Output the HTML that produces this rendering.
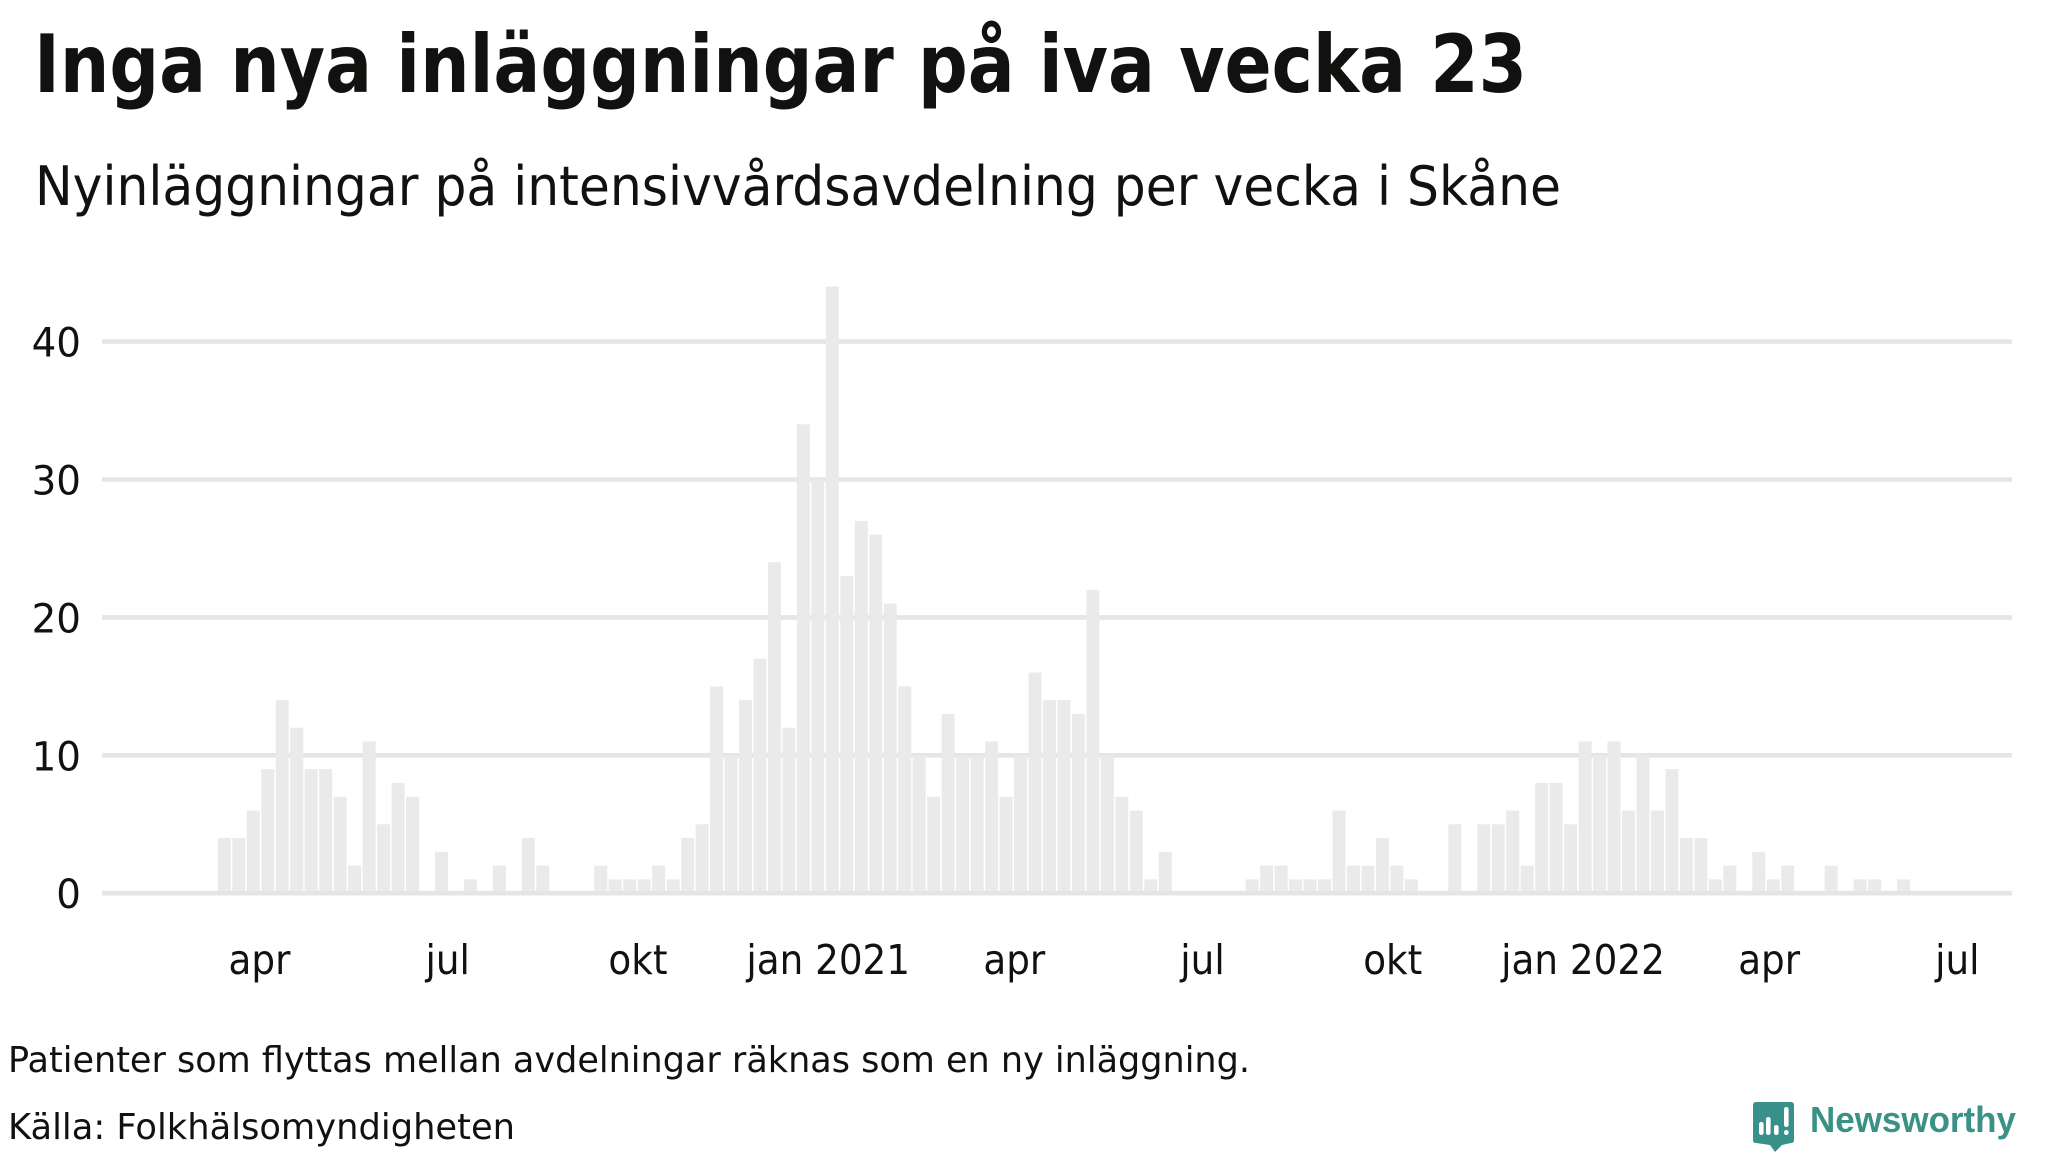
<!DOCTYPE html>
<html lang="sv">
<head>
<meta charset="utf-8">
<title>Inga nya inläggningar på iva vecka 23</title>
<style>
html,body{margin:0;padding:0;background:#fff;width:2048px;height:1152px;overflow:hidden}
svg{display:block}
text{font-family:"DejaVu Sans","Liberation Sans",sans-serif;fill:#111110}
</style>
</head>
<body>
<svg id="chart" xmlns="http://www.w3.org/2000/svg" width="2048" height="1152" viewBox="0 0 2048 1152">
<rect x="0" y="0" width="2048" height="1152" fill="#ffffff"/>
<text x="34" y="92" font-size="80" font-weight="700" textLength="1493" lengthAdjust="spacingAndGlyphs">Inga nya inläggningar på iva vecka 23</text>
<text x="35" y="205" font-size="54.5" textLength="1526" lengthAdjust="spacingAndGlyphs">Nyinläggningar på intensivvårdsavdelning per vecka i Skåne</text>
<g id="grid"></g>
<g id="bars"></g>
<g id="zero"></g>
<g id="yticks"></g>
<g id="xticks"></g>
<text x="8" y="1072" font-size="36" textLength="1242" lengthAdjust="spacingAndGlyphs">Patienter som flyttas mellan avdelningar räknas som en ny inläggning.</text>
<text x="8" y="1139" font-size="36" textLength="507" lengthAdjust="spacingAndGlyphs">Källa: Folkhälsomyndigheten</text>
<g>
  <path d="M1756 1102H1791Q1794 1102 1794 1105V1140Q1794 1143 1791 1143L1782 1145L1775 1152L1770 1145L1756 1143Q1753 1143 1753 1140V1105Q1753 1102 1756 1102Z" fill="#37918a"/>
  <rect x="1759" y="1122" width="4.6" height="13" rx="2.3" fill="#fff"/>
  <rect x="1766" y="1117" width="4.6" height="18" rx="2.3" fill="#fff"/>
  <rect x="1774" y="1125" width="4.6" height="10" rx="2.3" fill="#fff"/>
  <rect x="1784" y="1107" width="4.6" height="20" rx="2.3" fill="#fff"/>
  <rect x="1784" y="1130" width="4.6" height="5" rx="2.3" fill="#fff"/>
  <text x="1810" y="1132" font-size="36" font-weight="700" textLength="206" lengthAdjust="spacingAndGlyphs" style="font-family:'Liberation Sans',sans-serif;fill:#3a9186">Newsworthy</text>
</g>
</svg>
<script>
var firstWeek = '2020-03-15';
var weeklyAdmissions = [
  4,4,6,9,14,12,9,9,7,2,11,5,8,7,0,3,0,1,0,2,0,4,2,0,0,0,
  2,1,1,1,2,1,4,5,
  15,10,14,17,24,12,34,30,44,23,27,26,21,15,10,7,13,10,10,11,7,10,16,14,14,13,22,10,7,6,1,3,
  0,0,0,0,0,
  1,2,2,1,1,1,6,2,2,4,2,1,
  0,0,5,0,5,5,6,2,8,8,5,11,10,11,6,10,6,9,4,4,1,2,0,3,1,2,0,0,2,0,1,1,0,1,0
];
var yTickValues = [0,10,20,30,40];
var xTickDates = ['2020-04-01','2020-07-01','2020-10-01','2021-01-01','2021-04-01','2021-07-01','2021-10-01','2022-01-01','2022-04-01','2022-07-01'];
var xTickLabels = ['apr','jul','okt','jan 2021','apr','jul','okt','jan 2022','apr','jul'];

var NS = 'http://www.w3.org/2000/svg';
var DAY = 86400000;
var originDay = Date.parse('2020-04-01');
function xDate(ms){ return 259.5 + (ms - originDay) / DAY * 2.068; }
function yValue(v){ return 893.2 - v * 13.79; }
var barWidth = 13;
var gridLeft = 102, gridRight = 2012;

function make(tag, attrs){
  var el = document.createElementNS(NS, tag);
  for (var k in attrs) el.setAttribute(k, attrs[k]);
  return el;
}
function condense(el, factor){
  var len = el.getComputedTextLength();
  el.setAttribute('textLength', (len * factor).toFixed(1));
  el.setAttribute('lengthAdjust', 'spacingAndGlyphs');
}

var gridG = document.getElementById('grid');
var yG = document.getElementById('yticks');
yTickValues.forEach(function(v){
  var line = make('line', {x1:gridLeft, x2:gridRight, y1:yValue(v), y2:yValue(v), stroke:'#e5e5e9', 'stroke-width':4.6});
  
  
  gridG.appendChild(line);
  var t = make('text', {x:81, y:yValue(v) + 15, 'font-size':40, 'text-anchor':'end'});
  
  
  t.textContent = String(v);
  yG.appendChild(t);
  condense(t, 0.97);
});

var barG = document.getElementById('bars');
var startMs = Date.parse(firstWeek);
weeklyAdmissions.forEach(function(v, i){
  var cx = xDate(startMs + i * 7 * DAY);
  var r = make('rect', {x:cx - barWidth / 2, y:yValue(v), width:barWidth, height:Math.max(0, yValue(0) - yValue(v)), fill:'#eaeaea'});
  
  
  barG.appendChild(r);
});

var zeroLine = make('line', {x1:gridLeft, x2:gridRight, y1:yValue(0), y2:yValue(0), stroke:'#e5e5e9', 'stroke-width':4.6});


document.getElementById('zero').appendChild(zeroLine);

var xG = document.getElementById('xticks');
xTickDates.forEach(function(d, i){
  var t = make('text', {x:xDate(Date.parse(d)), y:974, 'font-size':41, 'text-anchor':'middle'});
  
  
  t.textContent = xTickLabels[i];
  xG.appendChild(t);
  condense(t, 0.91);
});
</script>
</body>
</html>
